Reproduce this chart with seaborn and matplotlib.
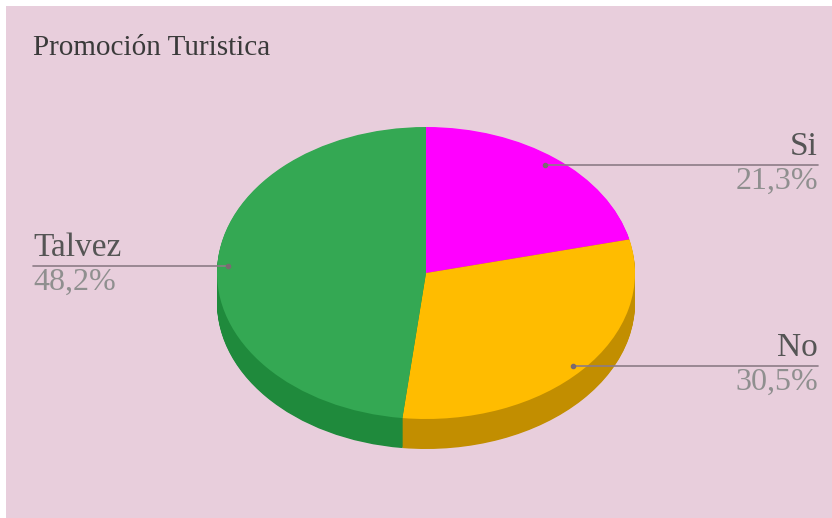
import matplotlib
matplotlib.use("Agg")
from matplotlib import pyplot as plt
from matplotlib.patches import Rectangle
import numpy as np
import seaborn as sns

sns.set_theme(style="white")
plt.rcParams["font.family"] = ["Liberation Serif", "DejaVu Serif"]

# data
categories = ["Si", "No", "Talvez"]
values = [21.3, 30.5, 48.2]
pct_labels = ["21,3%", "30,5%", "48,2%"]
title = "Promoción Turistica"

top_colors = ["#FF00FF", "#FFBC00", "#34A853"]
side_colors = ["#B300B3", "#C28E00", "#1F8A3C"]
bg = "#E8CEDC"

W, H = 832, 518
fig = plt.figure(figsize=(W / 100, H / 100), dpi=100)
fig.patch.set_facecolor("white")

# background panel, pixel coords (y down)
bg_ax = fig.add_axes([0, 0, 1, 1])
bg_ax.set_xlim(0, W)
bg_ax.set_ylim(H, 0)
bg_ax.axis("off")
bg_ax.add_patch(Rectangle((6, 6), W - 6, H - 6, facecolor=bg, edgecolor="none"))

# pie geometry (pixels)
cx, cy, rx, ry, depth = 426, 273, 209, 146, 30
d = depth / ry
pie_ax = fig.add_axes([(cx - rx) / W, (H - (cy + ry + depth)) / H,
                       2 * rx / W, (2 * ry + depth) / H])
pie_ax.axis("off")
pie_ax.patch.set_alpha(0)

# extruded side wall: stack darker pies
for off in np.linspace(-d, 0, 40)[:-1]:
    pie_ax.pie(values, colors=side_colors, startangle=90, counterclock=False,
               center=(0, off), radius=1, wedgeprops=dict(linewidth=0))
pie_ax.pie(values, colors=top_colors, startangle=90, counterclock=False,
           center=(0, 0), radius=1, wedgeprops=dict(linewidth=0))
pie_ax.set_aspect("auto")
pie_ax.set_xlim(-1, 1)
pie_ax.set_ylim(-1 - d, 1)

# overlay for text and leader lines
ov = fig.add_axes([0, 0, 1, 1])
ov.set_xlim(0, W)
ov.set_ylim(H, 0)
ov.axis("off")
ov.patch.set_alpha(0)

ov.text(33, 48, title, fontsize=21, color="#3a3a3a", va="center", ha="left")

line_col = "#8c7c86"
label_specs = [
    # index, text x, line y, line start x, line end x, align
    (0, 818, 165, 545, 818, "right"),
    (1, 818, 366, 573, 818, "right"),
    (2, 33, 266, 228, 33, "left"),
]
for i, tx, ly, x0, x1, ha in label_specs:
    ov.plot([x0, x1], [ly, ly], color=line_col, lw=1.2)
    ov.plot([x0], [ly], marker="o", ms=3, color="#7a6a70")
    ov.text(tx, ly - 3, categories[i], fontsize=24, color="#555555",
            ha=ha, va="bottom")
    ov.text(tx, ly + 2, pct_labels[i], fontsize=23, color="#8f8f8f",
            ha=ha, va="top")

fig.savefig("out.png", dpi=100, facecolor=fig.get_facecolor())
